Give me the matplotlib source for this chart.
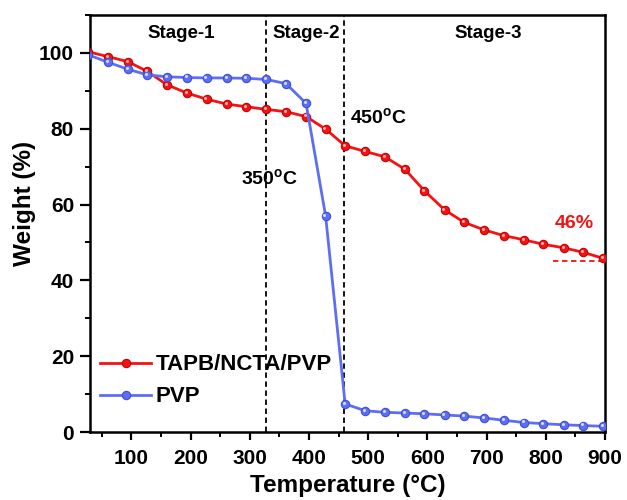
import numpy as np
import matplotlib
matplotlib.use('Agg')
import matplotlib.pyplot as plt
import matplotlib.transforms as mtransforms
from matplotlib.ticker import MultipleLocator

plt.rcParams['font.family'] = ['Liberation Sans', 'DejaVu Sans']
plt.rcParams['font.weight'] = 'bold'
plt.rcParams['mathtext.fontset'] = 'custom'
plt.rcParams['mathtext.rm'] = 'Liberation Sans:bold'
plt.rcParams['mathtext.bf'] = 'Liberation Sans:bold'

# TGA data (temperature in C, weight in %)
temp = [27, 61, 94, 127, 160, 194, 227, 261, 294, 328, 361, 395, 428, 461,
        495, 528, 562, 595, 629, 662, 696, 729, 763, 796, 830, 863, 897]
w_composite = [100.3, 99.0, 97.7, 95.1, 91.6, 89.4, 87.8, 86.5, 85.8, 85.1,
               84.5, 83.2, 79.9, 75.5, 74.0, 72.6, 69.3, 63.6, 58.6, 55.3,
               53.3, 51.8, 50.7, 49.5, 48.6, 47.4, 45.8]
w_pvp = [99.5, 97.5, 95.7, 94.2, 93.7, 93.5, 93.4, 93.4, 93.3, 93.0,
         91.9, 86.7, 57.0, 7.4, 5.6, 5.2, 5.0, 4.8, 4.5, 4.2,
         3.7, 3.1, 2.5, 2.2, 1.9, 1.7, 1.5]

stage_bounds = [327, 459]
stage_names = ['Stage-1', 'Stage-2', 'Stage-3']
stage_x = [184, 396, 702]
residue = 46

red = '#f21414'
blue = '#5d6ef2'

fig = plt.figure(figsize=(6.27, 5.0), dpi=100)
ax = fig.add_axes([0.1435, 0.136, 0.8215, 0.834])

ax.plot(temp, w_composite, '-o', color=red, lw=2, ms=6,
        mfc=red, mec='#c80000', mew=0.8, label='TAPB/NCTA/PVP', zorder=3)
ax.plot(temp, w_pvp, '-o', color=blue, lw=2, ms=6,
        mfc=blue, mec='#3f4fd6', mew=0.8, label='PVP', zorder=3)

# little glossy spot on each ball marker
shine = mtransforms.offset_copy(ax.transData, fig=fig, x=-0.8, y=0.8, units='points')
ax.plot(temp, w_composite, 'o', ms=2.2, mfc='#ffb0b0', mec='none', transform=shine, zorder=4)
ax.plot(temp, w_pvp, 'o', ms=2.2, mfc='#d8dcff', mec='none', transform=shine, zorder=4)

for xb in stage_bounds:
    ax.axvline(xb, color='black', lw=1.3, ls=(0, (3, 2)), zorder=2)

for name, xs in zip(stage_names, stage_x):
    ax.text(xs, 105.2, name, ha='center', va='center', fontsize=13.5, fontweight='bold')

ax.text(333, 66.8, r'350$^{\rm o}$C', ha='center', va='center', fontsize=14)
ax.text(470, 82.8, r'450$^{\rm o}$C', ha='left', va='center', fontsize=14)

# residual mass marker
ax.plot([812, 900], [45, 45], color=red, lw=1.3, ls=(0, (3, 2)), zorder=2)
ax.text(848, 55, '{}%'.format(residue), color=red, ha='center', va='center', fontsize=14)

ax.set_xlim(30, 900)
ax.set_ylim(0, 110)
ax.xaxis.set_major_locator(MultipleLocator(100))
ax.xaxis.set_minor_locator(MultipleLocator(50))
ax.yaxis.set_major_locator(MultipleLocator(20))
ax.yaxis.set_minor_locator(MultipleLocator(10))
ax.tick_params(which='major', direction='out', width=1.6, labelsize=15)
ax.tick_params(axis='x', which='major', length=6, pad=6.5)
ax.tick_params(axis='y', which='major', length=7.5, pad=4)
ax.tick_params(which='minor', direction='out', length=3.5, width=1.4)
for s in ax.spines.values():
    s.set_linewidth(1.8)

ax.set_xlabel('Temperature (°C)', fontsize=17.5, fontweight='bold', labelpad=4)
ax.set_ylabel('Weight (%)', fontsize=17.5, fontweight='bold', labelpad=2)
ax.yaxis.label.set_y(0.547)

ax.legend(loc='lower left', bbox_to_anchor=(0.0, 0.035), frameon=False,
          fontsize=16, numpoints=1, handlelength=2.3, handletextpad=0.2,
          labelspacing=0.5, borderaxespad=0.05)

fig.savefig('out.png', dpi=100)
